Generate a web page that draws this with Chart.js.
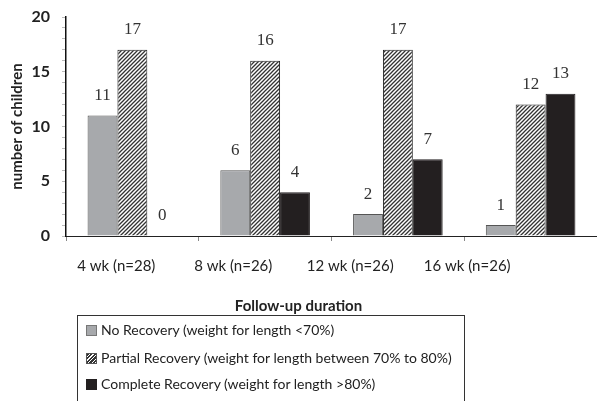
<!DOCTYPE html>
<html>
<head>
<meta charset="utf-8">
<script src="https://cdn.jsdelivr.net/npm/chart.js@4.4.0/dist/chart.umd.min.js"></script>
<style>
  body { margin: 0; background: #fff; }
  .wrap { position: relative; width: 597px; height: 401px; overflow: hidden; }
  .legend {
    position: absolute; left: 77px; top: 315px; width: 386px; height: 110px;
    border: 1.5px solid #333; font-family: Lato, sans-serif; font-size: 14px; color: #222;
  }
  .legend div { position: absolute; left: 8px; height: 18px; line-height: 18px; white-space: nowrap; }
  .legend span { display: inline-block; width: 9px; height: 9px; margin-right: 4px; vertical-align: -1px; }
</style>
</head>
<body>
<div class="wrap">
  <canvas id="chart" width="597" height="401"></canvas>
  <div class="legend" id="legend"></div>
</div>
<script>
// data
const durations = ["4 wk (n=28)", "8 wk (n=26)", "12 wk (n=26)", "16 wk (n=26)"];
const noRecovery = [11, 6, 2, 1];
const partialRecovery = [17, 16, 17, 12];
const completeRecovery = [0, 4, 7, 13];
const seriesNames = [
  "No Recovery (weight for length <70%)",
  "Partial Recovery (weight for length between 70% to 80%)",
  "Complete Recovery (weight for length >80%)"
];

// diagonal hatch pattern
function makeHatch() {
  const c = document.createElement("canvas");
  c.width = 4; c.height = 4;
  const g = c.getContext("2d");
  g.fillStyle = "#fff";
  g.fillRect(0, 0, 4, 4);
  g.strokeStyle = "#333";
  g.lineWidth = 1.3;
  g.beginPath();
  g.moveTo(0, 4); g.lineTo(4, 0);
  g.moveTo(-1, 1); g.lineTo(1, -1);
  g.moveTo(3, 5); g.lineTo(5, 3);
  g.stroke();
  return g.createPattern(c, "repeat");
}
const hatch = makeHatch();

// value labels above bars
const valueLabels = {
  id: "valueLabels",
  afterDatasetsDraw(chart) {
    const ctx = chart.ctx;
    ctx.save();
    ctx.font = "17px 'Liberation Serif', serif";
    ctx.fillStyle = "#333";
    ctx.textAlign = "center";
    ctx.textBaseline = "middle";
    chart.data.datasets.forEach((ds, i) => {
      chart.getDatasetMeta(i).data.forEach((bar, j) => {
        ctx.fillText(ds.data[j], bar.x, bar.y - 20);
      });
    });
    ctx.restore();
  }
};

const ctx = document.getElementById("chart").getContext("2d");
const chart = new Chart(ctx, {
  type: "bar",
  data: {
    labels: durations,
    datasets: [
      { label: seriesNames[0], data: noRecovery, backgroundColor: "#a7a9ac", borderColor: "#555", borderWidth: 1 },
      { label: seriesNames[1], data: partialRecovery, backgroundColor: hatch, borderColor: "#222", borderWidth: 1 },
      { label: seriesNames[2], data: completeRecovery, backgroundColor: "#231f20", borderColor: "#231f20", borderWidth: 1 }
    ]
  },
  options: {
    responsive: false,
    animation: false,
    datasets: { bar: { categoryPercentage: 0.675, barPercentage: 1 } },
    layout: { padding: { top: 17, right: 0, left: 0, bottom: 86 } },
    scales: {
      x: {
        grid: { offset: true, drawOnChartArea: false, tickLength: 5, color: "#888" },
        border: { color: "#222", width: 1 },
        ticks: { display: false }
      },
      x2: {
        type: "linear",
        position: "bottom",
        min: -0.43,
        max: 4.11,
        offset: false,
        grid: { display: false },
        border: { display: false },
        ticks: {
          stepSize: 1,
          includeBounds: false,
          autoSkip: false,
          maxRotation: 0,
          padding: 8,
          color: "#222",
          font: { family: "Lato", size: 15 },
          callback: (v) => (Number.isInteger(v) && v >= 0 && v < durations.length ? durations[v] : "")
        }
      },
      y: {
        min: 0,
        max: 20,
        afterFit: (s) => { s.width = 66; },
        grid: { drawOnChartArea: false, tickLength: 4, color: "#bbb" },
        border: { color: "#111", width: 1.5 },
        ticks: {
          stepSize: 1,
          autoSkip: false,
          padding: 12,
          color: "#222",
          font: { family: "Lato", size: 16, weight: "bold", lineHeight: 0.5 },
          callback: (v) => (v % 5 === 0 ? v : "")
        },
        title: {
          display: true,
          text: "number of children",
          color: "#222",
          font: { family: "Lato", size: 15, weight: "bold" },
          padding: { top: 8, bottom: 0 }
        }
      }
    },
    plugins: {
      legend: { display: false },
      tooltip: { enabled: false },
      title: {
        display: true,
        position: "bottom",
        text: "Follow-up duration",
        color: "#222",
        font: { family: "Lato", size: 15, weight: "bold" },
        padding: { top: 14, bottom: 0 }
      }
    }
  },
  plugins: [valueLabels]
});

// legend box
const swatches = [
  "background:#a7a9ac;border:1px solid #777;",
  "background:repeating-linear-gradient(-45deg,#fff 0 1px,#333 1px 2.5px);border:1px solid #555;",
  "background:#231f20;border:1px solid #231f20;"
];
const rowTops = [5, 33, 59];
const legend = document.getElementById("legend");
seriesNames.forEach((name, i) => {
  const row = document.createElement("div");
  row.style.top = rowTops[i] + "px";
  row.innerHTML = '<span style="' + swatches[i] + '"></span>' + name;
  legend.appendChild(row);
});
</script>
</body>
</html>
